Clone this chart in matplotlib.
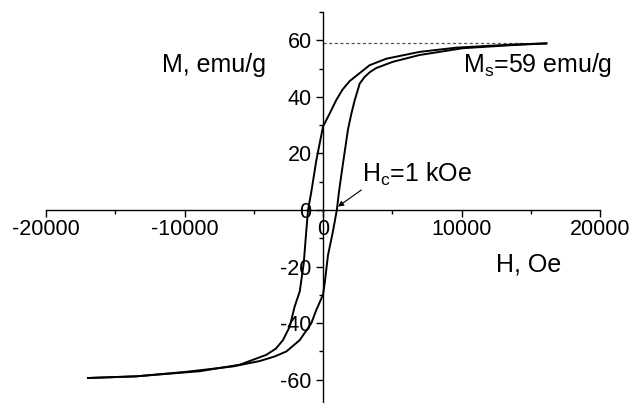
import matplotlib
matplotlib.use("Agg")
import matplotlib.pyplot as plt
from matplotlib.ticker import MultipleLocator

plt.rcParams['font.family'] = ['Liberation Sans', 'DejaVu Sans']
plt.rcParams['mathtext.fontset'] = 'custom'
plt.rcParams['mathtext.rm'] = 'Liberation Sans'
plt.rcParams['mathtext.it'] = 'Liberation Sans'

# Descending branch (H from +max to -max)
H_down = [16130, 13700, 9630, 6980, 4580, 3370, 2650, 1930, 1400, 950, 480, 0,
          -120, -480, -840, -1080, -1200, -1390, -1680, -2045, -2400, -2890,
          -3400, -4090, -6010, -8900, -13470, -16970]
M_down = [58.9, 58.5, 57.4, 55.9, 53.5, 51.2, 48.4, 45.6, 42.5, 38.8, 34.1, 29.5,
          26.5, 17.6, 6.5, 0.0, -7.0, -18.8, -28.8, -34.1, -41.2, -46.0,
          -49.0, -51.2, -54.7, -57.0, -58.8, -59.4]

# Ascending branch (H from -max to +max)
H_up = [-16970, -13470, -9860, -6500, -4570, -3500, -2640, -1680, -1200, -840,
        -480, 0, 120, 360, 700, 1000, 1155, 1444, 1805, 2050, 2290, 2650, 3000,
        3400, 3850, 5050, 6980, 10100, 13700, 16130]
M_up = [-59.4, -58.8, -57.2, -55.3, -53.4, -51.8, -50.0, -46.0, -42.6, -40.0,
        -35.3, -30.0, -26.0, -16.0, -8.0, 0.0, 6.5, 16.5, 28.5, 34.1, 38.8, 44.7, 47.0,
        48.8, 50.2, 52.4, 54.8, 57.2, 58.3, 58.9]

Ms = 58.9
x_ticks = [-20000, -10000, 0, 10000, 20000]
y_ticks = [-60, -40, -20, 0, 20, 40, 60]

fig = plt.figure(figsize=(6.29, 4.03), dpi=100)
ax = fig.add_axes([46 / 629, (403 - 408) / 403, 554 / 629, 396 / 403])

ax.plot(H_down, M_down, color='black', lw=1.4, zorder=3, solid_joinstyle='round')
ax.plot(H_up, M_up, color='black', lw=1.4, zorder=3, solid_joinstyle='round')
ax.plot([0, H_down[0]], [Ms, Ms], color='#555555', lw=0.9, ls=(0, (2.5, 2)), zorder=2)

ax.set_xlim(-20000, 20000)
ax.set_ylim(-70, 70)

for s in ['top', 'right']:
    ax.spines[s].set_visible(False)
ax.spines['left'].set_position(('data', 0))
ax.spines['bottom'].set_position(('data', 0))
for s in ['left', 'bottom']:
    ax.spines[s].set_linewidth(1.0)

ax.set_xticks(x_ticks)
ax.set_yticks(y_ticks)
ax.set_xticklabels([str(v) for v in x_ticks])
ax.set_yticklabels([str(v) for v in y_ticks])
ax.xaxis.set_minor_locator(MultipleLocator(5000))
ax.yaxis.set_minor_locator(MultipleLocator(10))
ax.tick_params(axis='x', which='major', direction='out', length=5.2, width=1.0,
               labelsize=15.5, pad=1)
ax.tick_params(axis='x', which='minor', direction='out', length=2.8, width=1.0)
ax.tick_params(axis='y', which='major', direction='out', length=5.2, width=1.0,
               labelsize=15.5, pad=3)
ax.tick_params(axis='y', which='minor', direction='out', length=2.8, width=1.0)
ax.patch.set_visible(False)

ax.text(-11650, 48.8, 'M, emu/g', fontsize=18, ha='left', va='baseline')
ax.text(10110, 48.8, r'M$_{\mathrm{s}}$=59 emu/g', fontsize=18, ha='left', va='baseline')
ax.text(2790, 9.9, r'H$_{\mathrm{c}}$=1 kOe', fontsize=18, ha='left', va='baseline')
ax.text(12520, -21.8, 'H, Oe', fontsize=18, ha='left', va='baseline')
ax.annotate('', xy=(1083, 1.2), xytext=(2773, 7.1),
            arrowprops=dict(arrowstyle='-|>', color='black', lw=0.8,
                            mutation_scale=8, shrinkA=0, shrinkB=0))

fig.savefig('out.png', dpi=100)
